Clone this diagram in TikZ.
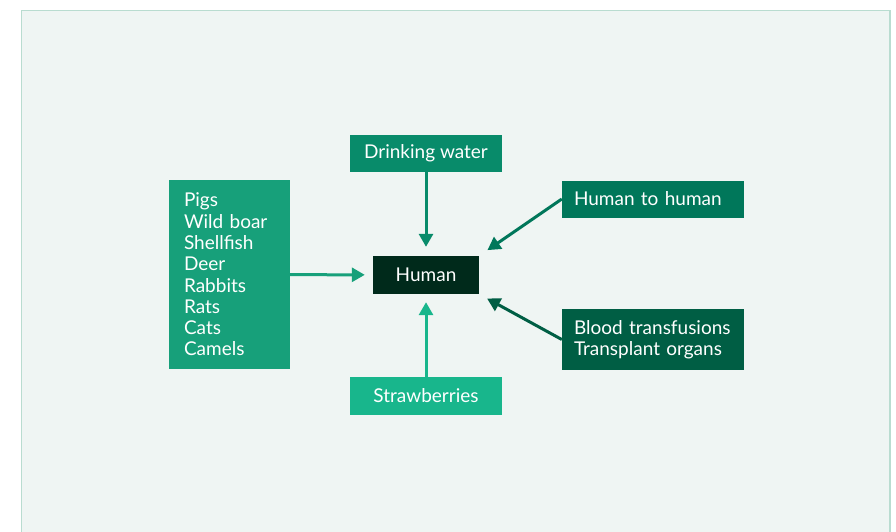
\documentclass[tikz,border=0pt]{standalone}
\usepackage{fontspec}
\setmainfont{Lato}
\usetikzlibrary{arrows.meta, positioning}
\definecolor{panelbg}{RGB}{239,245,243}
\definecolor{panelline}{RGB}{185,220,208}
\definecolor{watergreen}{RGB}{8,139,106}
\definecolor{animalgreen}{RGB}{23,160,122}
\definecolor{berrygreen}{RGB}{24,182,140}
\definecolor{humandark}{RGB}{0,42,27}
\definecolor{persongreen}{RGB}{0,119,90}
\definecolor{bloodgreen}{RGB}{0,94,68}

\begin{document}
\begin{tikzpicture}[x=1pt, y=-1pt,
    box/.style={text=white, inner sep=0pt, font=\fontsize{19}{21.3}\selectfont},
    link/.style={-{Triangle[length=13pt, width=14pt]}, line width=3pt}]
    \useasboundingbox (0,0) rectangle (896,532);
    % Panel
    \fill[panelbg] (21.5,10.5) rectangle (890,545);
    \draw[panelline, line width=1.5pt] (21.5,545) -- (21.5,10.5) -- (890,10.5) -- (890,545);

    % Human in the middle
    \node[box, fill=humandark, minimum width=106pt, minimum height=38pt]
          (human) at (426,275) {Human};

    % Sources
    \node[box, fill=watergreen, minimum width=152pt, minimum height=37pt]
          (water) at (426,153.5) {Drinking water};
    \node[box, fill=berrygreen, minimum width=152pt, minimum height=38pt]
          (berries) at (426,396) {Strawberries};
    \node[box, fill=animalgreen, text width=91pt, inner xsep=15pt,
          minimum height=189pt, align=left]
          (animals) at (229.5,274.5) {Pigs\\Wild boar\\Shellfish\\Deer\\Rabbits\\Rats\\Cats\\Camels};
    \node[box, fill=persongreen, text width=158pt, inner xsep=12pt,
          minimum height=37pt, align=left]
          (person) at (653,199) {Human to human};
    \node[box, fill=bloodgreen, text width=158pt, inner xsep=12pt,
          minimum height=61pt, align=left]
          (blood) at (653,339.5) {Blood transfusions\\Transplant organs};

    % Arrows
    \draw[link, watergreen, shorten >=9pt] (water) -- (human);
    \draw[link, berrygreen, shorten >=8pt] (berries) -- (human);
    \draw[link, animalgreen, shorten >=8pt] (animals) -- (human);
    \draw[link, persongreen, shorten >=10pt] (person.west) -- (human.north east);
    \draw[link, bloodgreen, shorten >=9pt] (blood.west) -- (human.south east);
\end{tikzpicture}
\end{document}
